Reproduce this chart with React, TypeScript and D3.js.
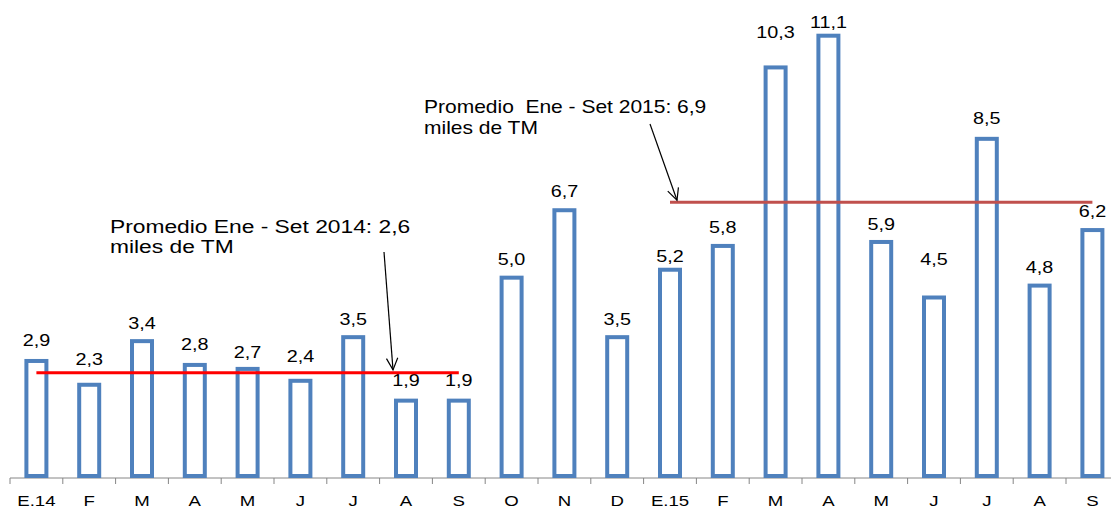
import React from "react";
import * as d3 from "d3";

// meses (ene 2014 - set 2015)
const months = ["E.14", "F", "M", "A", "M", "J", "J", "A", "S", "O", "N", "D",
  "E.15", "F", "M", "A", "M", "J", "J", "A", "S"];
const values = [2.9, 2.3, 3.4, 2.8, 2.7, 2.4, 3.5, 1.9, 1.9, 5.0, 6.7, 3.5,
  5.2, 5.8, 10.3, 11.1, 5.9, 4.5, 8.5, 4.8, 6.2];
// extra lift of some value labels, as in the original
const labelNudge = [2, 7, -1, 2, -2, 6, -1, 2, 2, 0, 0, -1,
  -5, 0, 16, -5, -1, 20, 2, 0, 0];

const avgValues = [2.6, 6.9];
const avgFrom = [0, 12];
const avgTo = [8, 20];
const avgColors = ["#FF0000", "#C0504D"];
const avgText = [
  ["Promedio Ene - Set 2014: 2,6", "miles de TM"],
  ["Promedio  Ene - Set 2015: 6,9", "miles de TM"],
];

const W = 1111;
const H = 511;
const fmt = (v: number) => v.toFixed(1).replace(".", ",");

export default function App() {
  const idx = months.map((_, i) => i);
  const x = d3.scaleBand<number>().domain(idx).range([10, 10 + 21 * 52.8]);
  const y = d3.scaleLinear().domain([0, 12]).range([476, 0]);
  const bw = 20;
  const cx = (i: number) => (x(i) as number) + x.bandwidth() / 2;
  const font = "Arial, 'Liberation Sans', sans-serif";
  const sx = 1.2;

  const annot = [
    { tx: 110, ty: 233, size: 19, gap: 20, ax0: 384, ay0: 252, ax1: 393, ay1: y(avgValues[0]) - 3 },
    { tx: 424, ty: 113, size: 17.5, gap: 21, ax0: 650, ay0: 124, ax1: 677, ay1: y(avgValues[1]) - 2 },
  ];

  const arrowHead = (x0: number, y0: number, x1: number, y1: number) => {
    const a = Math.atan2(y1 - y0, x1 - x0);
    const len = 13, spread = 0.45;
    const p1 = [x1 - len * Math.cos(a - spread), y1 - len * Math.sin(a - spread)];
    const p2 = [x1 - len * Math.cos(a + spread), y1 - len * Math.sin(a + spread)];
    return `M${p1[0]},${p1[1]}L${x1},${y1}L${p2[0]},${p2[1]}`;
  };

  return (
    <svg width={W} height={H} style={{ position: "absolute", left: 0, top: 0, background: "#fff" }}
      fontFamily={font}>
      {/* eje */}
      <line x1={10} x2={W} y1={478} y2={478} stroke="#868686" strokeWidth={1} />
      {d3.range(22).map((k) => {
        const xx = 10 + k * x.step();
        return <line key={"t" + k} x1={xx} x2={xx} y1={478} y2={484} stroke="#868686" strokeWidth={1} />;
      })}
      {months.map((m, i) => (
        <text key={"c" + i} transform={`translate(${cx(i)},506) scale(${sx},1)`} textAnchor="middle"
          fontSize={15.5} fill="#000">{m}</text>
      ))}

      {/* barras */}
      {values.map((v, i) => (
        <rect key={"b" + i} x={cx(i) - bw / 2} y={y(v)} width={bw} height={y(0) - y(v)}
          fill="#fff" stroke="#4F81BD" strokeWidth={4} />
      ))}
      {values.map((v, i) => (
        <text key={"v" + i} transform={`translate(${cx(i)},${y(v) - 2 - 11 - labelNudge[i]}) scale(${sx},1)`}
          textAnchor="middle" fontSize={16.5} fill="#000">{fmt(v)}</text>
      ))}

      {/* promedios */}
      {avgValues.map((v, k) => (
        <line key={"a" + k} x1={cx(avgFrom[k])} x2={cx(avgTo[k])} y1={y(v)} y2={y(v)}
          stroke={avgColors[k]} strokeWidth={3} />
      ))}
      {annot.map((a, k) => (
        <g key={"n" + k}>
          {avgText[k].map((t, j) => (
            <text key={j} transform={`translate(${a.tx},${a.ty + j * a.gap}) scale(${sx},1)`}
              fontSize={a.size} fill="#000" style={{ whiteSpace: "pre" }}>{t}</text>
          ))}
          <line x1={a.ax0} y1={a.ay0} x2={a.ax1} y2={a.ay1} stroke="#000" strokeWidth={1.2} />
          <path d={arrowHead(a.ax0, a.ay0, a.ax1, a.ay1)} fill="none" stroke="#000" strokeWidth={1.2} />
        </g>
      ))}
    </svg>
  );
}
